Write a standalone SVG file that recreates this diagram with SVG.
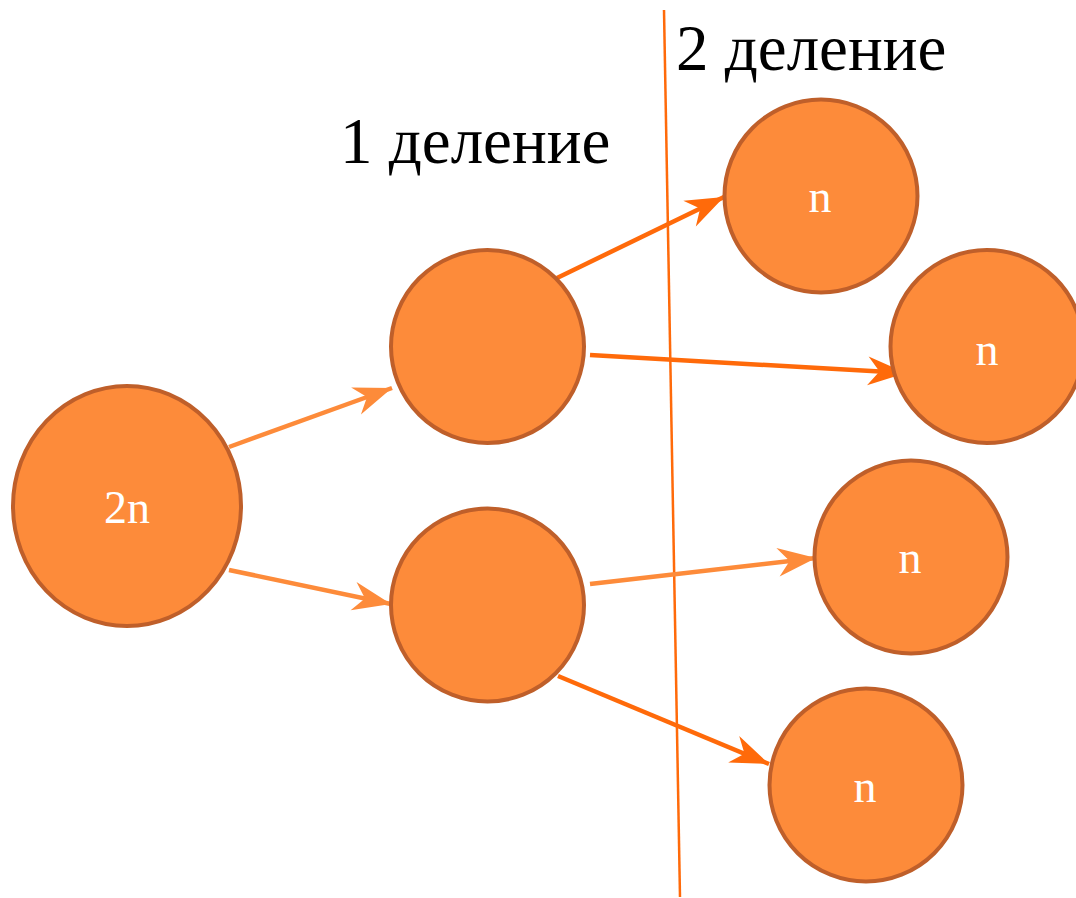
<svg xmlns="http://www.w3.org/2000/svg" width="1076" height="898" viewBox="0 0 1076 898">
<style>
.cell{fill:#FD8B3A;stroke:#BF5F2A;stroke-width:4}
.lbl{font-family:"Liberation Serif","DejaVu Serif",serif;font-size:46px;fill:#FFFFFF;text-anchor:middle}
.title{font-family:"Liberation Serif","DejaVu Serif",serif;font-size:65px;fill:#000000}
.light{stroke:#FD8B3A;stroke-width:4.5;fill:none}
.dark{stroke:#FF6A0A;stroke-width:4.5;fill:none}
</style>
<defs>
<marker id="ahL" markerUnits="userSpaceOnUse" markerWidth="44" markerHeight="34" viewBox="-38 -16 40 32" refX="0" refY="0" orient="auto">
<path d="M0,0 L-36,-13.5 L-25,0 L-36,13.5 Z" fill="#FD8B3A"/>
</marker>
<marker id="ahD" markerUnits="userSpaceOnUse" markerWidth="44" markerHeight="34" viewBox="-38 -16 40 32" refX="0" refY="0" orient="auto">
<path d="M0,0 L-36,-13.5 L-25,0 L-36,13.5 Z" fill="#FF6A0A"/>
</marker>
</defs>
<rect width="1076" height="898" fill="#FFFFFF"/>
<g id="divider">
<line x1="664" y1="10" x2="680" y2="897" stroke="#FF6A0A" stroke-width="2.5"/>
</g>
<g id="title1"><text class="title" x="340" y="163">1 деление</text></g>
<g id="title2"><text class="title" x="676" y="70">2 деление</text></g>
<g id="connectors">
<line class="light" x1="229" y1="447" x2="392" y2="388" marker-end="url(#ahL)"/>
<line class="light" x1="229" y1="570" x2="391" y2="604" marker-end="url(#ahL)"/>
<line class="dark" x1="557" y1="278" x2="724" y2="197" marker-end="url(#ahD)"/>
<line class="dark" x1="590" y1="355" x2="906" y2="373" marker-end="url(#ahD)"/>
<line class="light" x1="590" y1="584" x2="816" y2="558" marker-end="url(#ahL)"/>
<line class="dark" x1="558" y1="676" x2="769" y2="764" marker-end="url(#ahD)"/>
</g>
<g id="node-2n">
<ellipse class="cell" cx="127" cy="506" rx="114" ry="120"/>
<text class="lbl" x="127" y="523">2n</text>
</g>
<g id="node-a">
<circle class="cell" cx="487.5" cy="346.5" r="96.5"/>
</g>
<g id="node-b">
<circle class="cell" cx="487.5" cy="605" r="96.5"/>
</g>
<g id="node-n1">
<circle class="cell" cx="821" cy="196" r="96.5"/>
<text class="lbl" x="820" y="212">n</text>
</g>
<g id="node-n2">
<circle class="cell" cx="987" cy="346.5" r="96.5"/>
<text class="lbl" x="987" y="365">n</text>
</g>
<g id="node-n3">
<circle class="cell" cx="911" cy="557" r="96.5"/>
<text class="lbl" x="910" y="573">n</text>
</g>
<g id="node-n4">
<circle class="cell" cx="866" cy="785" r="96.5"/>
<text class="lbl" x="865" y="802">n</text>
</g>
</svg>
